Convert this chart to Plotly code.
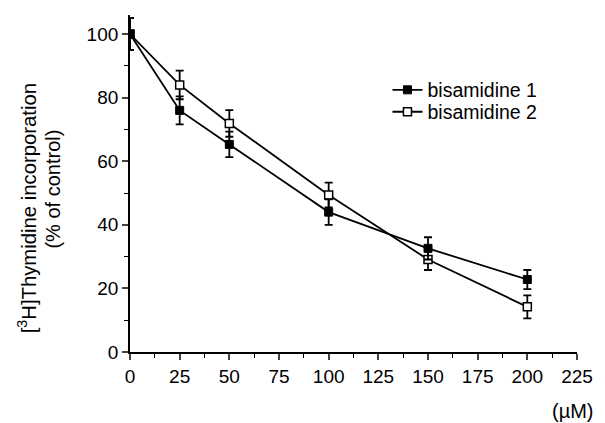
import plotly.graph_objects as go

conc = [0, 25, 50, 100, 150, 200]
bis1 = [100, 76, 65.3, 44, 32.6, 22.8]
bis1_err = [5, 4.4, 4, 4, 3.5, 3]
bis2 = [100, 84, 71.9, 49.4, 29.1, 14.2]
bis2_err = [5, 4.5, 4.2, 3.9, 3.3, 3.6]
x_ticks = [0, 25, 50, 75, 100, 125, 150, 175, 200, 225]
y_ticks = [0, 20, 40, 60, 80, 100]

font = "Liberation Sans, Arial, Helvetica, sans-serif"

fig = go.Figure()
fig.add_trace(go.Scatter(
    x=conc, y=bis2, name="bisamidine 2", mode="lines+markers", legend="legend2",
    line=dict(color="black", width=1.8),
    marker=dict(symbol="square", size=8, color="white", line=dict(color="black", width=1.5)),
    error_y=dict(type="data", array=bis2_err, color="black", thickness=1.8, width=4),
))
fig.add_trace(go.Scatter(
    x=conc, y=bis1, name="bisamidine 1", mode="lines+markers", legend="legend",
    line=dict(color="black", width=1.8),
    marker=dict(symbol="square", size=8, color="black", line=dict(color="black", width=1)),
    error_y=dict(type="data", array=bis1_err, color="black", thickness=1.8, width=4),
))

leg_common = dict(xanchor="left", yanchor="middle", font=dict(size=19.5),
                  bgcolor="rgba(0,0,0,0)", itemwidth=30, borderwidth=0)

fig.update_layout(
    width=605, height=423,
    margin=dict(l=130, r=24, t=15, b=71),
    plot_bgcolor="white", paper_bgcolor="white",
    font=dict(family=font, size=19, color="black"),
    showlegend=True,
    legend=dict(x=0.576, y=0.777, **leg_common),
    legend2=dict(x=0.576, y=0.712, **leg_common),
    annotations=[
        dict(text="(µM)", x=1.042, y=-0.175, xref="paper", yref="paper",
             xanchor="right", yanchor="middle", showarrow=False, font=dict(size=20)),
        dict(text="[<sup>3</sup>H]Thymidine incorporation", x=-0.23, y=0.427,
             xref="paper", yref="paper", xanchor="center", yanchor="middle",
             textangle=-90, showarrow=False, font=dict(size=20.3)),
        dict(text="(% of control)", x=-0.173, y=0.484,
             xref="paper", yref="paper", xanchor="center", yanchor="middle",
             textangle=-90, showarrow=False, font=dict(size=20)),
    ],
)
fig.update_xaxes(range=[0, 225], tickvals=x_ticks, ticks="outside", ticklen=6,
                 tickwidth=1.5, showline=True, linecolor="black", linewidth=1.8,
                 showgrid=False, zeroline=False,
                 minor=dict(dtick=12.5, ticks="outside", ticklen=4, tickwidth=1.2, tickcolor="black"))
fig.update_yaxes(range=[0, 106], tickvals=y_ticks, ticks="outside", ticklen=6,
                 tickwidth=1.5, showline=True, linecolor="black", linewidth=1.8,
                 showgrid=False, zeroline=False,
                 minor=dict(dtick=10, ticks="outside", ticklen=4, tickwidth=1.2, tickcolor="black"))

fig.write_html("out.html", config={"displayModeBar": False},
               post_script="document.body.style.margin='0';")
